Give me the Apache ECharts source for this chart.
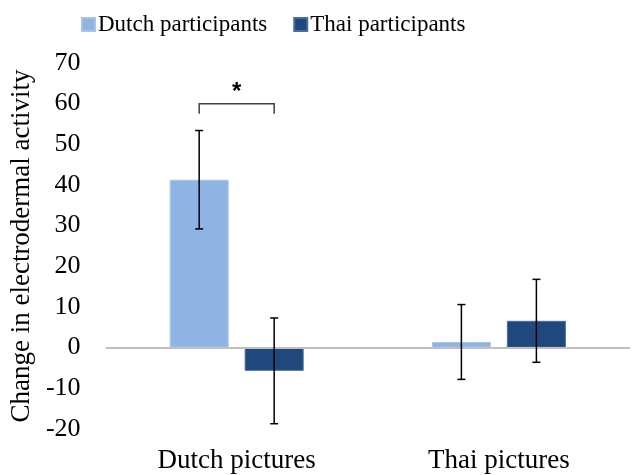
<!DOCTYPE html>
<html>
<head>
<meta charset="utf-8">
<script src="https://cdn.jsdelivr.net/npm/echarts@6/dist/echarts.min.js"></script>
<style>
html,body{margin:0;padding:0;background:#fff;}
#main{width:634px;height:475px;}
</style>
</head>
<body>
<div id="main"></div>
<script>
var categories = ['Dutch pictures', 'Thai pictures'];
var dutchMeans = [41.3, 1.4];     // Dutch participants
var thaiMeans = [-5.7, 6.6];      // Thai participants
var dutchErr = [12.1, 9.2];
var thaiErr = [13.0, 10.2];
var yTicks = [-20, -10, 0, 10, 20, 30, 40, 50, 60, 70];
// significance bracket: category, level, tick bottom
var sigBracket = [[0, 60, 57.5]];

var barW = 59, barGapPx = 16;
var halfStep = (barW + barGapPx) / 2;   // offset of each bar from the category centre
var font = 'Liberation Serif';

var myChart = echarts.init(document.getElementById('main'));

function errItem(offset, means, errs) {
    return function (params, api) {
        var i = api.value(0);
        var top = api.coord([i, means[i] + errs[i]]);
        var bot = api.coord([i, means[i] - errs[i]]);
        var x = top[0] + offset;
        var cap = 4;
        var st = {stroke: '#000', lineWidth: 1.5};
        return {
            type: 'group',
            children: [
                {type: 'line', shape: {x1: x, y1: top[1], x2: x, y2: bot[1]}, style: st},
                {type: 'line', shape: {x1: x - cap, y1: top[1], x2: x + cap, y2: top[1]}, style: st},
                {type: 'line', shape: {x1: x - cap, y1: bot[1], x2: x + cap, y2: bot[1]}, style: st}
            ]
        };
    };
}

var option = {
    backgroundColor: '#fff',
    animation: false,
    textStyle: {fontFamily: font},
    legend: {
        top: 8,
        left: 76,
        itemWidth: 13,
        itemHeight: 13,
        itemGap: 26,
        icon: 'rect',
        textStyle: {fontSize: 23, color: '#000', fontFamily: font, padding: [0, 0, 0, -2]},
        data: ['Dutch participants', 'Thai participants']
    },
    grid: {left: 105, right: 4, top: 63, bottom: 46},
    xAxis: {
        type: 'category',
        data: categories,
        axisLine: {show: false},
        axisTick: {show: false},
        axisLabel: {fontSize: 27, color: '#000', margin: 18, fontFamily: font}
    },
    yAxis: {
        type: 'value',
        min: yTicks[0],
        max: yTicks[yTicks.length - 1],
        interval: 10,
        name: 'Change in electrodermal activity',
        nameLocation: 'middle',
        nameGap: 61,
        nameTextStyle: {fontSize: 27, color: '#000', fontFamily: font},
        axisLine: {show: false},
        axisTick: {show: false},
        splitLine: {show: false},
        axisLabel: {fontSize: 26, color: '#000', margin: 25, fontFamily: font}
    },
    series: [
        {
            name: 'Dutch participants',
            type: 'bar',
            data: dutchMeans,
            barWidth: barW,
            barGap: (barGapPx / barW * 100) + '%',
            itemStyle: {color: '#8EB4E3', borderColor: '#A9C4E6', borderWidth: 1},
            markLine: {
                silent: true,
                symbol: 'none',
                label: {show: false},
                lineStyle: {color: '#BFBFBF', width: 2, type: 'solid'},
                data: [{yAxis: 0}]
            }
        },
        {
            name: 'Thai participants',
            type: 'bar',
            data: thaiMeans,
            barWidth: barW,
            itemStyle: {color: '#1F497D', borderColor: '#4A6E9C', borderWidth: 1}
        },
        {
            type: 'custom',
            z: 5,
            renderItem: errItem(-halfStep, dutchMeans, dutchErr),
            data: categories.map(function (c, i) { return [i]; })
        },
        {
            type: 'custom',
            z: 5,
            renderItem: errItem(halfStep, thaiMeans, thaiErr),
            data: categories.map(function (c, i) { return [i]; })
        },
        {
            type: 'custom',
            z: 5,
            renderItem: function (params, api) {
                var i = api.value(0);
                var hi = api.coord([i, api.value(1)]);
                var lo = api.coord([i, api.value(2)]);
                var x1 = hi[0] - halfStep, x2 = hi[0] + halfStep;
                var st = {stroke: '#404040', lineWidth: 1.5, fill: null};
                return {
                    type: 'group',
                    children: [
                        {type: 'polyline', shape: {points: [[x1, lo[1]], [x1, hi[1]], [x2, hi[1]], [x2, lo[1]]]}, style: st},
                        {type: 'text', style: {text: '*', x: hi[0], y: hi[1] + 1, textAlign: 'center', textVerticalAlign: 'bottom',
                            font: 'bold 24px "Liberation Sans"', fill: '#000'}}
                    ]
                };
            },
            data: sigBracket
        }
    ]
};
myChart.setOption(option);
</script>
</body>
</html>
